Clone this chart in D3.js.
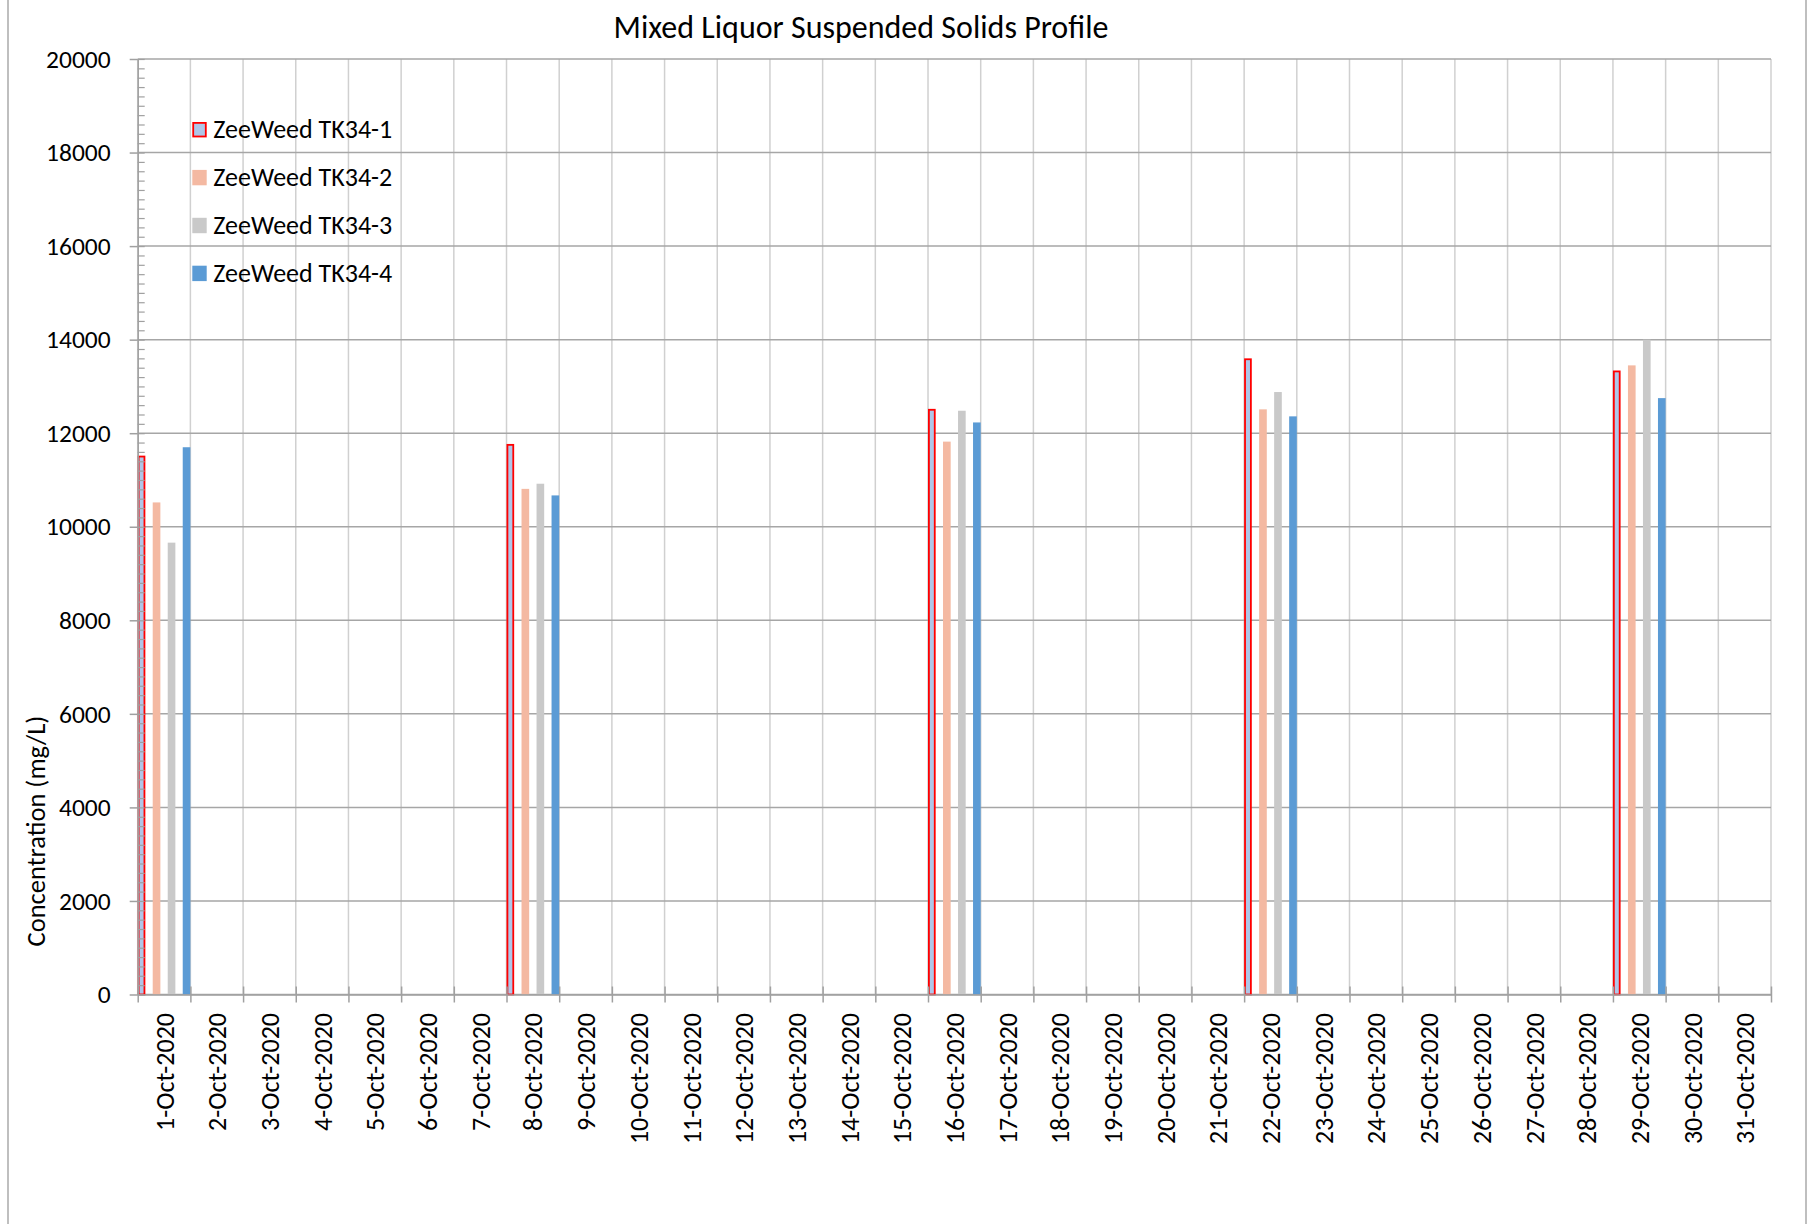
<!DOCTYPE html>
<html>
<head>
<meta charset="utf-8">
<script src="https://cdn.jsdelivr.net/npm/d3@7"></script>
<style>
  html, body { margin: 0; padding: 0; background: #ffffff; }
  svg { display: block; }
  text { font-family: Calibri, Carlito, "Open Sans", sans-serif; fill: #000; }
</style>
</head>
<body>
<svg id="chart" width="1808" height="1224"></svg>
<script>
// ---------------- data ----------------
const dateLabels = [
  "1-Oct-2020","2-Oct-2020","3-Oct-2020","4-Oct-2020","5-Oct-2020","6-Oct-2020","7-Oct-2020",
  "8-Oct-2020","9-Oct-2020","10-Oct-2020","11-Oct-2020","12-Oct-2020","13-Oct-2020","14-Oct-2020",
  "15-Oct-2020","16-Oct-2020","17-Oct-2020","18-Oct-2020","19-Oct-2020","20-Oct-2020","21-Oct-2020",
  "22-Oct-2020","23-Oct-2020","24-Oct-2020","25-Oct-2020","26-Oct-2020","27-Oct-2020","28-Oct-2020",
  "29-Oct-2020","30-Oct-2020","31-Oct-2020"
];
const sampleDates = ["1-Oct-2020","8-Oct-2020","16-Oct-2020","22-Oct-2020","29-Oct-2020"];
const seriesNames = ["ZeeWeed TK34-1","ZeeWeed TK34-2","ZeeWeed TK34-3","ZeeWeed TK34-4"];
const tk1 = [11520, 11770, 12520, 13600, 13340];
const tk2 = [10520, 10810, 11820, 12510, 13450];
const tk3 = [9660, 10920, 12480, 12880, 14000];
const tk4 = [11700, 10670, 12230, 12360, 12750];
const yTickValues = [0,2000,4000,6000,8000,10000,12000,14000,16000,18000,20000];
const titleText = "Mixed Liquor Suspended Solids Profile";
const yTitleText = "Concentration (mg/L)";

// ---------------- styling ----------------
const fills = ["#afc6e8", "#f4b9a2", "#c9c9c9", "#5b9bd5"];
const strokes = ["#ff0000", "none", "none", "none"];

const svg = d3.select("#chart");
const X0 = 137.7, X1 = 1771, Y0 = 59, Y1 = 994.5;

const x = d3.scaleBand().domain(dateLabels).range([X0, X1]).paddingInner(0).paddingOuter(0);
const xb = d3.scaleLinear().domain([0, dateLabels.length]).range([X0, X1]);
const x1 = d3.scaleBand().domain(seriesNames).range([0, x.bandwidth()]).paddingInner(0.49).paddingOuter(0);
const y = d3.scaleLinear().domain([0, 20000]).range([Y1, Y0]);

// chart frame (left/right edges visible)
svg.append("line").attr("x1", 8).attr("x2", 8).attr("y1", 0).attr("y2", 1224)
  .attr("stroke", "#bfbfbf").attr("stroke-width", 2);
svg.append("line").attr("x1", 1806).attr("x2", 1806).attr("y1", 0).attr("y2", 1224)
  .attr("stroke", "#bfbfbf").attr("stroke-width", 2);

// vertical gridlines (category boundaries)
const bounds = d3.range(0, dateLabels.length + 1);
svg.append("g").selectAll("line").data(bounds).join("line")
  .attr("x1", d => xb(d)).attr("x2", d => xb(d))
  .attr("y1", Y0).attr("y2", Y1)
  .attr("stroke", "#d0d0d0").attr("stroke-width", 1.5);

// horizontal gridlines
svg.append("g").selectAll("line").data(yTickValues).join("line")
  .attr("x1", X0).attr("x2", X1)
  .attr("y1", d => y(d)).attr("y2", d => y(d))
  .attr("stroke", "#a6a6a6").attr("stroke-width", 1.5);

// bars
const table = sampleDates.map((d, i) => ({ date: d, values: [tk1[i], tk2[i], tk3[i], tk4[i]] }));
const groups = svg.append("g").selectAll("g").data(table).join("g")
  .attr("transform", d => `translate(${x(d.date)},0)`);
groups.selectAll("rect").data(d => d.values.map((v, k) => ({ v, k })))
  .join("rect")
  .attr("x", d => x1(seriesNames[d.k]) + (d.k === 0 ? 0.9 : 0))
  .attr("width", d => x1.bandwidth() - (d.k === 0 ? 1.8 : 0))
  .attr("y", d => y(d.v) + (d.k === 0 ? 0.9 : 0))
  .attr("height", d => y(0) - y(d.v) - (d.k === 0 ? 0.9 : 0))
  .attr("fill", d => fills[d.k])
  .attr("stroke", d => strokes[d.k])
  .attr("stroke-width", d => d.k === 0 ? 1.8 : 0);

// y axis (major ticks + labels)
const yAxis = svg.append("g").attr("transform", `translate(${X0},0)`)
  .call(d3.axisLeft(y).tickValues(yTickValues).tickSizeInner(8).tickSizeOuter(0).tickPadding(19)
    .tickFormat(d3.format("d")));
yAxis.select(".domain").attr("stroke", "#a0a0a0").attr("stroke-width", 1.5);
yAxis.selectAll(".tick line").attr("stroke", "#a0a0a0").attr("stroke-width", 1.5);
yAxis.selectAll(".tick text").style("font-size", "25.5px").attr("fill", "#000");

// y minor ticks (inside)
const yMinor = svg.append("g").attr("transform", `translate(${X0},0)`)
  .call(d3.axisRight(y).tickValues(d3.range(0, 20001, 200)).tickSize(7).tickFormat(""));
yMinor.select(".domain").remove();
yMinor.selectAll(".tick line").attr("stroke", "#a0a0a0").attr("stroke-width", 1.2);

// x axis baseline + boundary ticks
const xAxis = svg.append("g").attr("transform", `translate(0,${Y1})`)
  .call(d3.axisBottom(xb).tickValues(bounds).tickSizeInner(8).tickSizeOuter(0).tickFormat(""));
xAxis.select(".domain").attr("stroke", "#a0a0a0").attr("stroke-width", 1.5);
xAxis.selectAll(".tick line").attr("stroke", "#a0a0a0").attr("stroke-width", 1.5).attr("y1", -8);

// x labels (rotated)
svg.append("g").selectAll("text").data(dateLabels).join("text")
  .attr("transform", d => `translate(${x(d) + x.bandwidth() / 2 + 1},1013) rotate(-90)`)
  .attr("text-anchor", "end")
  .attr("dy", "0.33em")
  .style("font-size", "26px")
  .text(d => d);

// title
svg.append("text").attr("x", 861).attr("y", 38.3).attr("text-anchor", "middle")
  .style("font-size", "32px").text(titleText);

// y title
svg.append("text").attr("transform", "translate(45,831) rotate(-90)")
  .attr("text-anchor", "middle").style("font-size", "26.5px").text(yTitleText);

// legend
const legendCenters = [129.7, 177.6, 225.5, 273.4];
const lg = svg.append("g").selectAll("g").data(seriesNames).join("g")
  .attr("transform", (d, i) => `translate(0,${legendCenters[i]})`);
lg.append("rect")
  .attr("x", (d, i) => i === 0 ? 193.2 : 192.3)
  .attr("y", (d, i) => i === 0 ? -6.8 : -7.7)
  .attr("width", (d, i) => i === 0 ? 12.6 : 14.4)
  .attr("height", (d, i) => i === 0 ? 13.6 : 15.4)
  .attr("fill", (d, i) => fills[i])
  .attr("stroke", (d, i) => strokes[i])
  .attr("stroke-width", (d, i) => i === 0 ? 1.8 : 0);
lg.append("text").attr("x", 213.3).attr("dy", "0.33em")
  .style("font-size", "26px").text(d => d);
</script>
</body>
</html>
